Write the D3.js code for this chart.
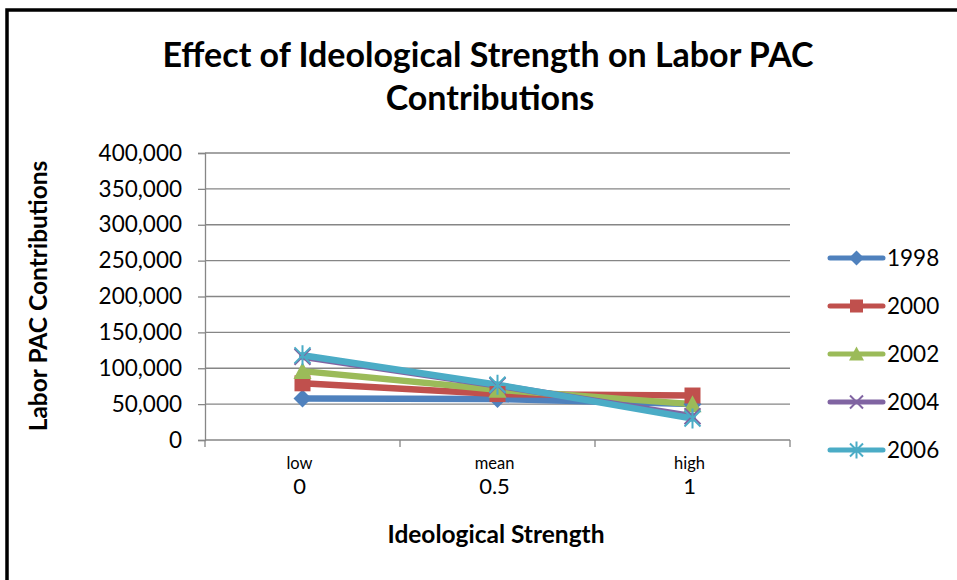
<!DOCTYPE html>
<html>
<head>
<meta charset="utf-8">
<script src="https://cdn.jsdelivr.net/npm/d3@7"></script>
<style>
  html, body { margin: 0; padding: 0; background: #fff; }
  svg { display: block; }
  text { font-family: Lato, "Liberation Sans", Arial, sans-serif; fill: #000; }
</style>
</head>
<body>
<svg id="chart" width="957" height="580"></svg>
<script>
// Category positions along the ideology scale
const categories = ["low", "mean", "high"];
const categoryValues = ["0", "0.5", "1"];

// Labor PAC contributions per election year
const years = ["1998", "2000", "2002", "2004", "2006"];
const values1998 = [58000, 57000, 50000];
const values2000 = [79000, 64000, 62000];
const values2002 = [96000, 70000, 50000];
const values2004 = [116000, 76000, 33000];
const values2006 = [118000, 77000, 30000];

const yTicks = [0, 50000, 100000, 150000, 200000, 250000, 300000, 350000, 400000];

const seriesColors = ["#4F81BD", "#C0504D", "#9BBB59", "#8064A2", "#4BACC6"];
const seriesMarkers = ["diamond", "square", "triangle", "x", "star"];

const series = years.map((y, i) => ({
  name: y,
  values: [values1998, values2000, values2002, values2004, values2006][i],
  color: seriesColors[i],
  marker: seriesMarkers[i]
}));

const svg = d3.select("#chart");
const FONT = "Lato, 'Liberation Sans', Arial, sans-serif";

// Outer chart frame (extends past the right and bottom edges)
svg.append("rect")
  .attr("x", 7).attr("y", 10)
  .attr("width", 980).attr("height", 600)
  .attr("fill", "#fff")
  .attr("stroke", "#000").attr("stroke-width", 3.5);

const plot = { left: 205, right: 790, top: 153, bottom: 440 };

const x = d3.scaleBand().domain(categories).range([plot.left, plot.right]).padding(0);
const y = d3.scaleLinear().domain([0, 400000]).range([plot.bottom, plot.top]);
const cx = c => x(c) + x.bandwidth() / 2;

// Horizontal gridlines
svg.append("g")
  .selectAll("line")
  .data(yTicks.filter(t => t > 0))
  .join("line")
  .attr("x1", plot.left).attr("x2", plot.right)
  .attr("y1", d => y(d)).attr("y2", d => y(d))
  .attr("stroke", "#868686").attr("stroke-width", 1.3);

// Y axis
const yAxis = svg.append("g")
  .attr("transform", `translate(${plot.left},0)`)
  .call(d3.axisLeft(y).tickValues(yTicks).tickSize(7).tickPadding(16)
    .tickFormat(d3.format(",")));
yAxis.select(".domain").attr("stroke", "#868686").attr("stroke-width", 1.3);
yAxis.selectAll(".tick line").attr("stroke", "#868686").attr("stroke-width", 1.3);
yAxis.selectAll(".tick text")
  .attr("font-family", FONT)
  .attr("font-size", 22.5).attr("fill", "#000");

// X axis: baseline and tick marks at band boundaries
svg.append("line")
  .attr("x1", plot.left).attr("x2", plot.right)
  .attr("y1", plot.bottom).attr("y2", plot.bottom)
  .attr("stroke", "#868686").attr("stroke-width", 1.3);
const boundaries = categories.map(c => x(c)).concat([plot.right]);
svg.append("g").selectAll("line")
  .data(boundaries)
  .join("line")
  .attr("x1", d => d).attr("x2", d => d)
  .attr("y1", plot.bottom).attr("y2", plot.bottom + 7)
  .attr("stroke", "#868686").attr("stroke-width", 1.3);

// Two-line category labels
const xl = svg.append("g").selectAll("g")
  .data(categories)
  .join("g")
  .attr("transform", c => `translate(${cx(c) - 3},0)`);
xl.append("text")
  .attr("y", 469).attr("text-anchor", "middle")
  .attr("font-size", 16.5)
  .text(c => c);
xl.append("text")
  .attr("y", 494).attr("text-anchor", "middle")
  .attr("font-size", 22)
  .text((c, i) => categoryValues[i]);

// Series lines
const line = d3.line()
  .x((d, i) => cx(categories[i]))
  .y(d => y(d));

svg.append("g").selectAll("path")
  .data(series)
  .join("path")
  .attr("d", s => line(s.values))
  .attr("fill", "none")
  .attr("stroke", s => s.color)
  .attr("stroke-width", 6.5)
  .attr("stroke-linejoin", "round")
  .attr("stroke-linecap", "round");

// Marker shapes
function drawMarker(g, type, color, size) {
  const h = size / 2;
  if (type === "diamond") {
    g.append("path").attr("d", `M0,${-h - 1}L${h + 1},0L0,${h + 1}L${-h - 1},0Z`).attr("fill", color);
  } else if (type === "square") {
    g.append("rect").attr("x", -h).attr("y", -h).attr("width", size).attr("height", size).attr("fill", color);
  } else if (type === "triangle") {
    g.append("path").attr("d", `M0,${-h - 1}L${h + 1},${h}L${-h - 1},${h}Z`).attr("fill", color);
  } else if (type === "x") {
    g.append("path").attr("d", `M${-h},${-h}L${h},${h}M${h},${-h}L${-h},${h}`)
      .attr("stroke", color).attr("stroke-width", 2);
  } else if (type === "star") {
    g.append("path").attr("d", `M${-h},${-h}L${h},${h}M${h},${-h}L${-h},${h}M0,${-h - 2}L0,${h + 2}`)
      .attr("stroke", color).attr("stroke-width", 2);
  }
}

series.forEach(s => {
  s.values.forEach((v, i) => {
    const g = svg.append("g").attr("transform", `translate(${cx(categories[i])},${y(v)})`);
    drawMarker(g, s.marker, s.color, 16);
  });
});

// Legend
const legend = svg.append("g").selectAll("g")
  .data(series)
  .join("g")
  .attr("transform", (s, i) => `translate(830,${258 + i * 48})`);
legend.append("line")
  .attr("x1", 0).attr("x2", 53)
  .attr("stroke", s => s.color).attr("stroke-width", 5)
  .attr("stroke-linecap", "round");
legend.each(function (s) {
  const g = d3.select(this).append("g").attr("transform", "translate(26.5,0)");
  drawMarker(g, s.marker, s.color, 13);
});
legend.append("text")
  .attr("x", 57).attr("y", 8)
  .attr("font-size", 22.5)
  .text(s => s.name);

// Titles
svg.append("text")
  .attr("x", 488).attr("y", 67)
  .attr("text-anchor", "middle")
  .attr("font-size", 34).attr("font-weight", "bold")
  .text("Effect of Ideological Strength on Labor PAC");
svg.append("text")
  .attr("x", 490).attr("y", 110)
  .attr("text-anchor", "middle")
  .attr("font-size", 34).attr("font-weight", "bold")
  .text("Contributions");

svg.append("text")
  .attr("x", 496).attr("y", 543)
  .attr("text-anchor", "middle")
  .attr("font-size", 24.5).attr("font-weight", "bold")
  .text("Ideological Strength");

svg.append("text")
  .attr("transform", "translate(47,296) rotate(-90)")
  .attr("text-anchor", "middle")
  .attr("font-size", 24.5).attr("font-weight", "bold")
  .text("Labor PAC Contributions");
</script>
</body>
</html>
